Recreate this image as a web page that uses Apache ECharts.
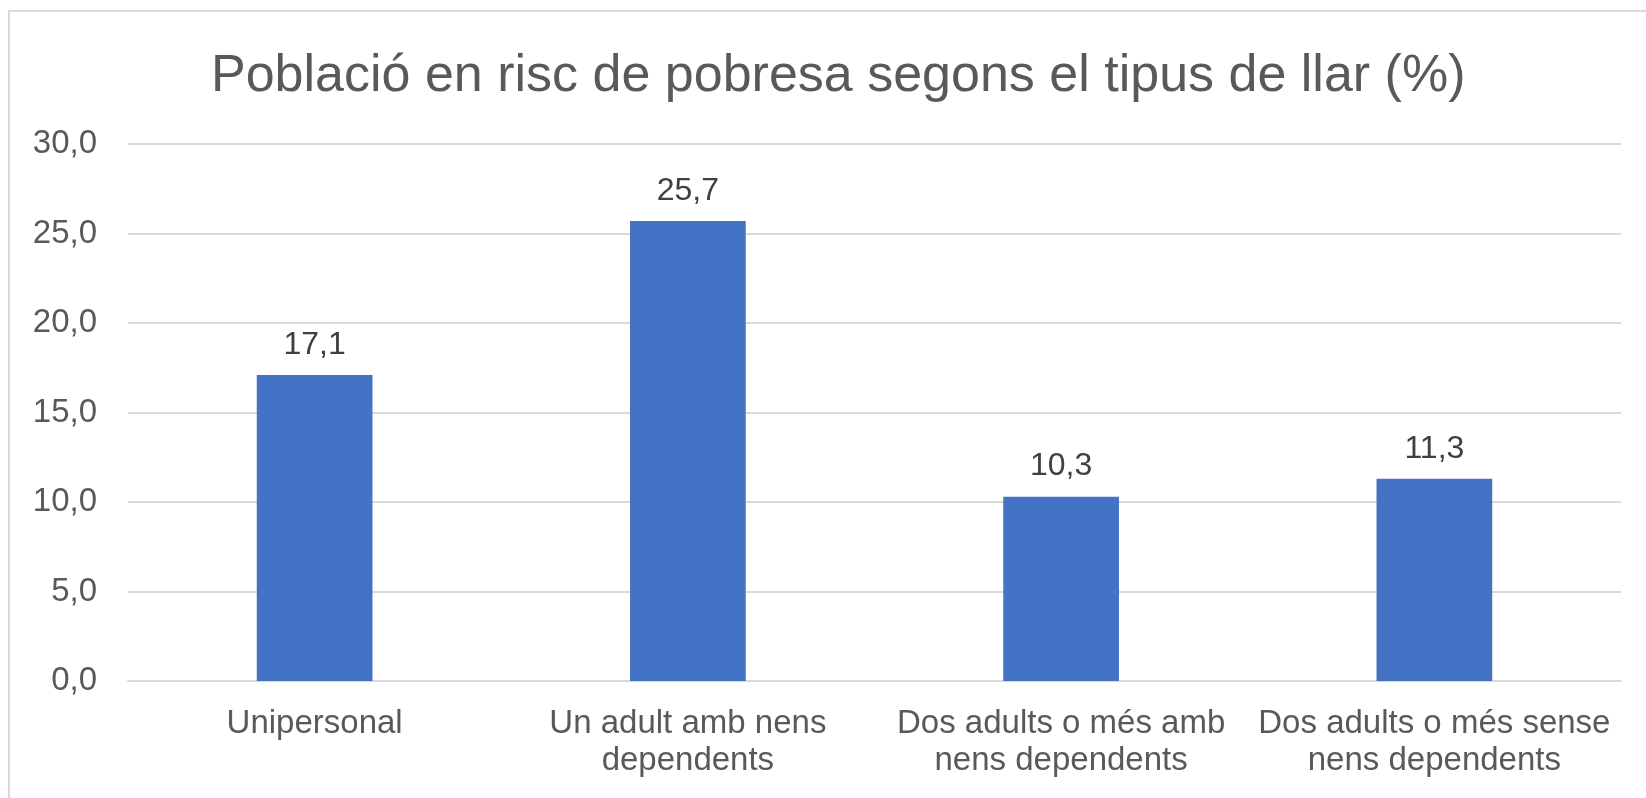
<!DOCTYPE html>
<html>
<head>
<meta charset="utf-8">
<script src="https://cdn.jsdelivr.net/npm/echarts@6/dist/echarts.min.js"></script>
<style>
html,body{margin:0;padding:0;background:#fff;}
#chart{width:1646px;height:798px;}
</style>
</head>
<body>
<div id="chart"></div>
<script>
var titleText = 'Població en risc de pobresa segons el tipus de llar (%)';
var categories = ['Unipersonal', 'Un adult amb nens\ndependents', 'Dos adults o més amb\nnens dependents', 'Dos adults o més sense\nnens dependents'];
var values = [17.1, 25.7, 10.3, 11.3];
var yTicks = { min: 0, max: 30, interval: 5 };

function fmt(v) { return Number(v).toFixed(1).replace('.', ','); }

var FONT = '"Liberation Sans", Arial, sans-serif';
var TXT = '#595959';

var myChart = echarts.init(document.getElementById('chart'));
myChart.setOption({
  animation: false,
  backgroundColor: '#fff',
  // marc gris clar (es talla per la dreta i per baix)
  graphic: [{
    type: 'rect',
    shape: { x: 9, y: 11, width: 1800, height: 900 },
    style: { fill: 'none', stroke: '#d9d9d9', lineWidth: 2 },
    silent: true
  }],
  title: {
    text: titleText,
    left: 206,
    top: 46,
    textStyle: { fontFamily: FONT, fontSize: 52, fontWeight: 'normal', color: TXT }
  },
  grid: { left: 128, right: 25, top: 144, bottom: 117 },
  xAxis: {
    type: 'category',
    data: categories,
    axisLine: { show: true, lineStyle: { color: '#d9d9d9', width: 2 } },
    axisTick: { show: false },
    axisLabel: {
      color: TXT, fontFamily: FONT, fontSize: 33, lineHeight: 37, margin: 24, interval: 0
    }
  },
  yAxis: {
    type: 'value',
    min: yTicks.min,
    max: yTicks.max,
    interval: yTicks.interval,
    axisLine: { show: false },
    axisTick: { show: false },
    splitLine: { lineStyle: { color: '#d9d9d9', width: 2 } },
    axisLabel: {
      color: TXT, fontFamily: FONT, fontSize: 33, margin: 31,
      formatter: fmt
    }
  },
  series: [{
    type: 'bar',
    data: values,
    barWidth: '31%',
    itemStyle: { color: '#4472c4' },
    label: {
      show: true,
      position: 'top',
      distance: 14,
      color: '#404040',
      fontFamily: FONT,
      fontSize: 32,
      formatter: function (p) { return fmt(p.value); }
    }
  }]
});
</script>
</body>
</html>
